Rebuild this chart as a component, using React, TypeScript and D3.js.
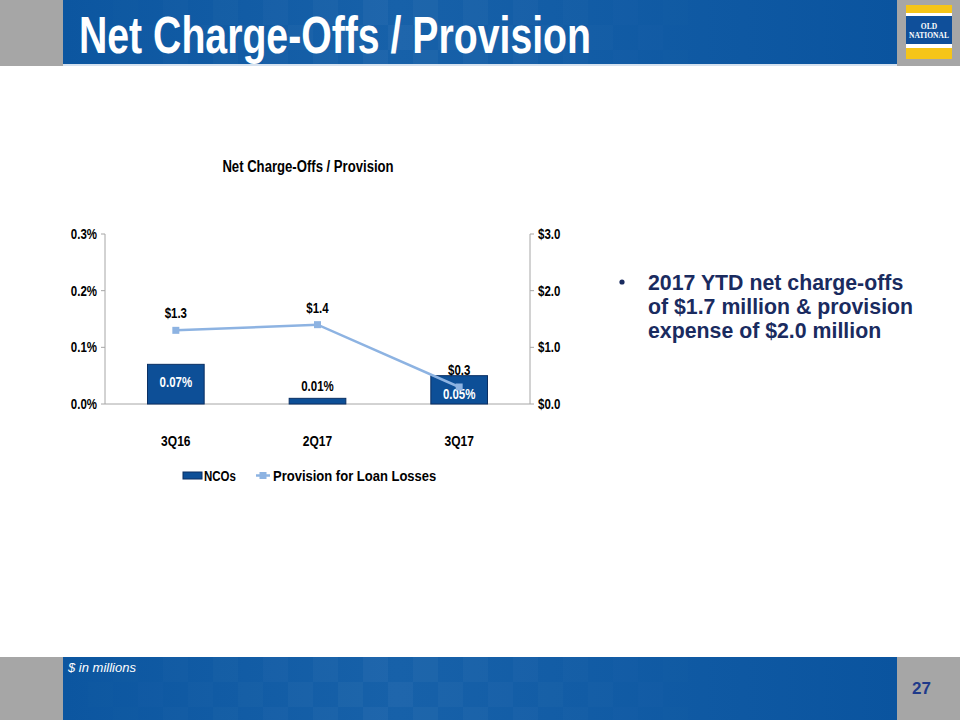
import React from "react";
import * as d3 from "d3";

const categories = ["3Q16", "2Q17", "3Q17"];
const ncoValues = [0.07, 0.01, 0.05]; // percent
const provisionValues = [1.3, 1.4, 0.3]; // $ millions
const leftTicks = [0, 0.1, 0.2, 0.3];
const rightTicks = [0, 1, 2, 3];
const seriesNames = ["NCOs", "Provision for Loan Losses"];
const bulletLines = [
  "2017 YTD net charge-offs",
  "of $1.7 million & provision",
  "expense of $2.0 million",
];

const SANS = "'Liberation Sans', Arial, sans-serif";
const NSX = 0.82; // narrow-font horizontal compression

function NT(props: {
  x: number;
  y: number;
  anchor?: "start" | "middle" | "end";
  size?: number;
  sx?: number;
  fill?: string;
  children: React.ReactNode;
}) {
  const { x, y, anchor = "start", size = 14, sx = NSX, fill = "#000", children } = props;
  return (
    <text
      transform={`translate(${x},${y}) scale(${sx},1)`}
      textAnchor={anchor}
      fontFamily={SANS}
      fontWeight="bold"
      fontSize={size}
      fill={fill}
    >
      {children}
    </text>
  );
}

export default function App() {
  const W = 960;
  const H = 720;
  const plotL = 105;
  const plotR = 530;
  const plotT = 234;
  const plotB = 404;

  const x = d3.scaleBand<string>().domain(categories).range([plotL, plotR]).paddingInner(0.6).paddingOuter(0.3);
  const yL = d3.scaleLinear().domain([0, 0.3]).range([plotB, plotT]);
  const yR = d3.scaleLinear().domain([0, 3]).range([plotB, plotT]);
  const cx = (c: string) => (x(c) as number) + x.bandwidth() / 2;

  const line = d3
    .line<number>()
    .x((_, i) => cx(categories[i]))
    .y((d) => yR(d));

  const pct1 = (v: number) => v.toFixed(1) + "%";
  const pct2 = (v: number) => v.toFixed(2) + "%";
  const usd = (v: number) => "$" + v.toFixed(1);

  const checker: { x: number; y: number; o: number }[] = [];
  const sq = 25;
  for (let c = 0; c < 34; c++) {
    for (let r = 0; r < 3; r++) {
      if ((c + r) % 2 === 0) {
        const xx = 63 + c * sq;
        const fade = Math.max(0, 1 - Math.abs(xx - 380) / 360);
        checker.push({ x: xx, y: r * sq, o: 0.035 * fade });
      }
    }
  }

  return (
    <svg width={W} height={H} style={{ position: "absolute", left: 0, top: 0 }}>
      <defs>
        <linearGradient id="hdr" x1="0" x2="1" y1="0" y2="0">
          <stop offset="0" stopColor="#0c56a0" />
          <stop offset="0.4" stopColor="#1761a9" />
          <stop offset="1" stopColor="#0a549f" />
        </linearGradient>
      </defs>
      <rect x={0} y={0} width={W} height={H} fill="#ffffff" />

      {/* Header */}
      <rect x={0} y={0} width={63} height={66} fill="#a6a6a6" />
      <rect x={897} y={0} width={63} height={66} fill="#a6a6a6" />
      <rect x={63} y={0} width={834} height={64} fill="url(#hdr)" />
      {checker.map((s, i) => (
        <rect key={"h" + i} x={s.x} y={s.y} width={sq} height={Math.min(sq, 64 - s.y)} fill="#ffffff" opacity={s.o} />
      ))}
      <rect x={63} y={64} width={834} height={2} fill="#d5e1ee" />
      <text x={79} y={53} fill="#ffffff" fontFamily={SANS} fontWeight="bold" fontSize={52} textLength={512} lengthAdjust="spacingAndGlyphs">
        Net Charge-Offs / Provision
      </text>

      {/* Logo */}
      <rect x={906} y={5} width={46} height={54} fill="#f5c518" />
      <rect x={906} y={13} width={46} height={3} fill="#ffffff" />
      <rect x={906} y={16} width={46} height={28} fill="#0f4f9a" />
      <rect x={906} y={44} width={46} height={4} fill="#ffffff" />
      <text x={929} y={29} textAnchor="middle" fill="#ffffff" fontFamily="'Liberation Serif', serif" fontWeight="bold" fontSize={7.5}>OLD</text>
      <text x={929} y={37.5} textAnchor="middle" fill="#ffffff" fontFamily="'Liberation Serif', serif" fontWeight="bold" fontSize={7.5}>NATIONAL</text>

      {/* Chart title */}
      <NT x={308} y={172} anchor="middle" size={16}>Net Charge-Offs / Provision</NT>

      {/* Axes */}
      <line x1={plotL} x2={plotL} y1={plotT} y2={plotB} stroke="#a6a6a6" strokeWidth={1} />
      <line x1={plotR} x2={plotR} y1={plotT} y2={plotB} stroke="#a6a6a6" strokeWidth={1} />
      <line x1={plotL} x2={plotR} y1={plotB} y2={plotB} stroke="#a6a6a6" strokeWidth={1} />
      {leftTicks.map((t) => (
        <g key={"lt" + t}>
          <line x1={plotL - 4} x2={plotL} y1={yL(t)} y2={yL(t)} stroke="#a6a6a6" />
          <NT x={97} y={yL(t) + 5} anchor="end">{pct1(t)}</NT>
        </g>
      ))}
      {rightTicks.map((t) => (
        <g key={"rt" + t}>
          <line x1={plotR} x2={plotR + 4} y1={yR(t)} y2={yR(t)} stroke="#a6a6a6" />
          <NT x={538} y={yR(t) + 5} anchor="start">{usd(t)}</NT>
        </g>
      ))}
      {categories.map((c) => (
        <NT key={"cat" + c} x={cx(c)} y={446} anchor="middle" sx={0.86}>{c}</NT>
      ))}

      {/* Bars */}
      {ncoValues.map((v, i) => {
        const c = categories[i];
        const top = yL(v);
        const h = plotB - top;
        const inside = h > 20;
        return (
          <g key={"bar" + c}>
            <rect x={x(c)} y={top} width={x.bandwidth()} height={h} fill="#0d4f97" stroke="#0a2f63" strokeWidth={1} />
            <NT x={cx(c)} y={inside ? top + 23 : top - 7} anchor="middle" fill={inside ? "#ffffff" : "#000000"}>
              {pct2(v)}
            </NT>
          </g>
        );
      })}

      {/* Line */}
      <path d={line(provisionValues) || ""} fill="none" stroke="#8db3e2" strokeWidth={2.5} />
      {provisionValues.map((v, i) => (
        <g key={"pt" + i}>
          <rect x={cx(categories[i]) - 3.5} y={yR(v) - 3.5} width={7} height={7} fill="#8db3e2" />
          <NT x={cx(categories[i])} y={yR(v) - 12} anchor="middle">{usd(v)}</NT>
        </g>
      ))}

      {/* Legend */}
      <rect x={183} y={472} width={19} height={7} fill="#0d4f97" stroke="#0a2f63" strokeWidth={1} />
      <NT x={204} y={481}>{seriesNames[0]}</NT>
      <line x1={256} x2={270} y1={475.5} y2={475.5} stroke="#8db3e2" strokeWidth={2.5} />
      <rect x={259.5} y={472} width={7} height={7} fill="#8db3e2" />
      <NT x={273} y={481} sx={0.93}>{seriesNames[1]}</NT>

      {/* Bullet */}
      <circle cx={622} cy={282} r={2.6} fill="#1a2b5f" />
      {bulletLines.map((l, i) => (
        <text key={"bl" + i} x={648} y={290 + i * 24} fontFamily={SANS} fontWeight="bold" fontSize={21.3} fill="#1a2b5f">
          {l}
        </text>
      ))}

      {/* Footer */}
      <rect x={0} y={657} width={63} height={63} fill="#a6a6a6" />
      <rect x={897} y={657} width={63} height={63} fill="#a6a6a6" />
      <rect x={63} y={657} width={834} height={63} fill="url(#hdr)" />
      {checker.map((s, i) => (
        <rect key={"f" + i} x={s.x} y={657 + s.y} width={sq} height={Math.min(sq, 720 - 657 - s.y)} fill="#ffffff" opacity={s.o} />
      ))}
      <text x={68} y={672} fill="#ffffff" fontFamily={SANS} fontStyle="italic" fontSize={13}>$ in millions</text>
      <text x={912} y={694} fill="#1f3a8a" fontFamily={SANS} fontWeight="bold" fontSize={17}>27</text>
    </svg>
  );
}
